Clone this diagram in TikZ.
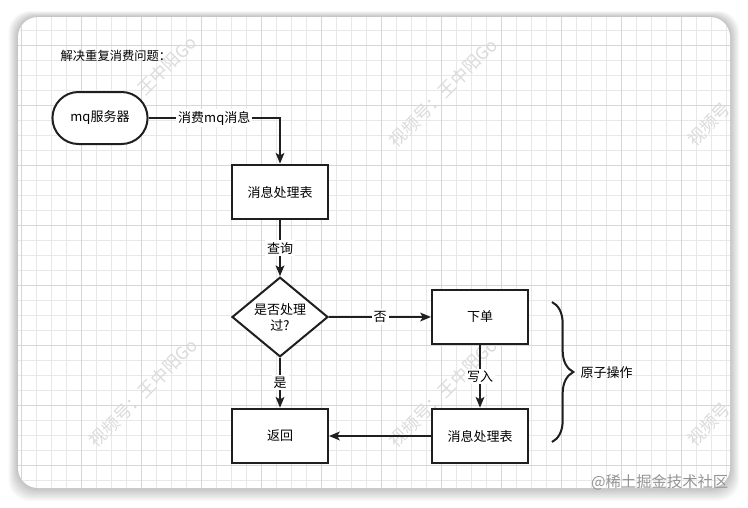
\documentclass[tikz,border=0pt]{standalone}
\usepackage{fontspec}
\setmainfont{Noto Sans CJK SC}
\usetikzlibrary{arrows.meta,shapes.geometric,shapes.misc,decorations.pathreplacing}

\begin{document}
\begin{tikzpicture}[x=0.75pt,y=-0.75pt,
  >={Stealth[length=8pt,width=6.5pt,inset=1.8pt]},
  txt/.style={font=\fontsize{9.75}{12}\selectfont},
  box/.style={txt,draw=black!88,line width=1.5pt,fill=white,
    minimum width=72pt,minimum height=41pt,inner sep=0pt},
  lbl/.style={txt,fill=white,inner sep=1.5pt},
  flow/.style={->,draw=black!88,line width=1.5pt},
  wmark/.style={rotate=45,text=black!14,inner sep=0pt,font=\fontsize{13}{15}\selectfont},
  minor/.style={draw=black!9,line width=0.5pt},
  major/.style={draw=black!16,line width=0.6pt}]
  % Ramme: hvit bakgrunn, skygge og kort
  \useasboundingbox (0,0) rectangle (748,507);
  \fill[white] (0,0) rectangle (748,507);
  \foreach \i in {1,...,12}
    \fill[black,opacity=0.018,rounded corners=16pt]
      (18-\i*0.8,17-\i*0.5) rectangle (730+\i*0.8,488+\i*1.1);
  \fill[white,rounded corners=15pt] (18,17) rectangle (730,488);
  % Rutenett (15 px, hver fjerde linje mørkere)
  \begin{scope}
    \clip[rounded corners=15pt] (18,17) rectangle (730,488);
    \foreach \x in {21,36,...,726} \draw[minor] (\x,17) -- (\x,488);
    \foreach \y in {30,45,...,480} \draw[minor] (18,\y) -- (730,\y);
    \foreach \x in {21,81,...,726} \draw[major] (\x,17) -- (\x,488);
    \foreach \y in {45,105,...,480} \draw[major] (18,\y) -- (730,\y);
  \end{scope}
  % Vannmerker (bare synlige deler)
  \node[wmark] (wm1) at (167,66) {王中阳Go};
  \node[wmark] (wm2) at (443,93) {视频号：王中阳Go};
  \node[wmark] (wm3) at (709,124) {视频号};
  \node[wmark] (wm4) at (143,393) {视频号：王中阳Go};
  \node[wmark] (wm5) at (443,393) {视频号：王中阳Go};
  \node[wmark] (wm6) at (709,424) {视频号};
  % Tittel
  \node[txt,anchor=west,font=\fontsize{9.2}{11}\selectfont] (title) at (56,56) {解决重复消费问题：};
  % Noder
  \node[txt,rounded rectangle,draw=black!88,line width=1.5pt,fill=white,
    minimum width=78pt,minimum height=39pt] (mq) at (100,118) {mq服务器};
  \node[box] (tab1) at (280,192) {消息处理表};
  \node[txt,diamond,draw=black!88,line width=1.5pt,fill=white,inner sep=0pt,
    minimum width=72pt,minimum height=52pt,align=center] (check) at (280,317) {是否处理\\过?};
  \node[box] (order) at (480,317) {下单};
  \node[box] (tab2) at (480,436) {消息处理表};
  \node[box] (ret) at (280,436) {返回};
  % Piler
  \draw[flow] (mq) -| node[lbl,pos=0.25] {消费mq消息} (tab1);
  \draw[flow] (tab1) -- node[lbl] {查询} (check);
  \draw[flow] (check) -- node[lbl] {否} (order);
  \draw[flow] (check) -- node[lbl] {是} (ret);
  \draw[flow] (order) -- node[lbl] {写入} (tab2);
  \draw[flow] (tab2) -- (ret);
  % Klamme for atomisk operasjon
  \coordinate (btop) at (552,302);
  \coordinate (bbot) at (552,442);
  \draw[black!88,line width=1.5pt,decorate,decoration={brace,amplitude=16pt}] (btop) -- (bbot);
  \node[txt,anchor=west] (atom) at (576,373) {原子操作};
  % Vannmerke nede til høyre
  \node[text=black!42,anchor=east,font=\fontsize{11.5}{13}\selectfont] (site) at (733,482) {@稀土掘金技术社区};
\end{tikzpicture}
\end{document}
